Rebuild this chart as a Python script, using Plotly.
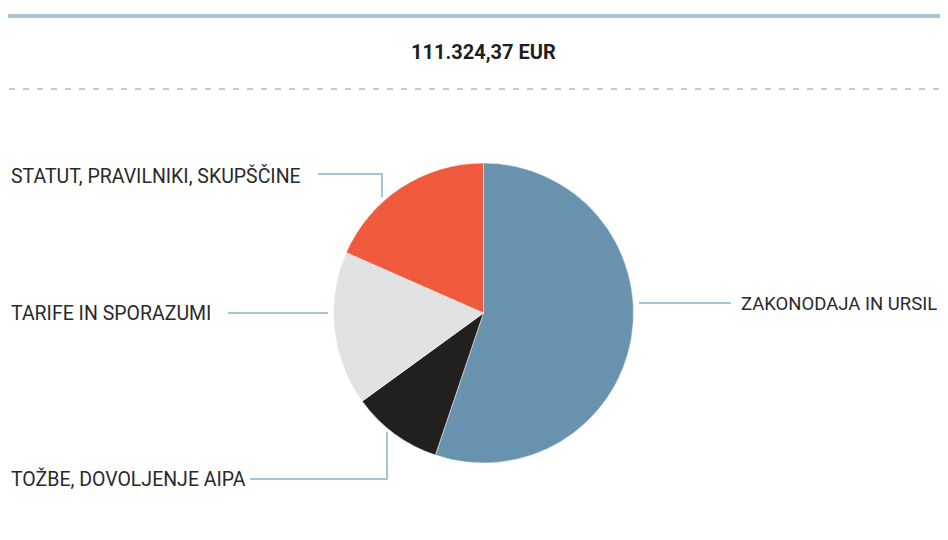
import plotly.graph_objects as go

# Data
categories = ["ZAKONODAJA IN URSIL", "TOŽBE, DOVOLJENJE AIPA", "TARIFE IN SPORAZUMI", "STATUT, PRAVILNIKI, SKUPŠČINE"]
shares = [55.2, 9.8, 16.6, 18.4]
colors = ["#6892ad", "#22201e", "#e1e2e4", "#ef5a3c"]
total_label = "111.324,37 EUR"

# the page places the figure at an 8px offset; coordinates below are page pixels
OFF = 8
W, H = 948 - OFF, 540 - 2 * OFF
def px(x):
    return (x - OFF) / W
def py(y):
    return 1 - (y - OFF) / H

fig = go.Figure()
fig.add_trace(go.Pie(
    labels=categories,
    values=shares,
    sort=False,
    direction="clockwise",
    rotation=0,
    marker=dict(colors=colors, line=dict(color="white", width=0.5)),
    textinfo="none",
    hoverinfo="label+percent",
    showlegend=False,
    domain=dict(x=[px(333.5), px(633.5)], y=[py(463), py(163)]),
))

line_col = "#a5c5d3"
shapes = [
    # top bar
    dict(type="rect", xref="paper", yref="paper", x0=px(8), x1=px(948), y0=py(18), y1=py(14),
         fillcolor="#a7c7d4", line=dict(width=0)),
    # dashed separator
    dict(type="line", xref="paper", yref="paper", x0=px(9), x1=px(948), y0=py(89), y1=py(89),
         line=dict(color="#b8b8b8", width=1.3, dash="6px,8px")),
    # leader lines
    dict(type="path", xref="paper", yref="paper",
         path=f"M {px(318)},{py(174)} L {px(382)},{py(174)} L {px(382)},{py(197)}",
         line=dict(color=line_col, width=2)),
    dict(type="line", xref="paper", yref="paper", x0=px(228), x1=px(328), y0=py(313), y1=py(313),
         line=dict(color=line_col, width=2)),
    dict(type="path", xref="paper", yref="paper",
         path=f"M {px(250)},{py(479)} L {px(387)},{py(479)} L {px(387)},{py(432)}",
         line=dict(color=line_col, width=2)),
    dict(type="line", xref="paper", yref="paper", x0=px(639), x1=px(731), y0=py(303), y1=py(303),
         line=dict(color=line_col, width=2)),
]

font_lbl = dict(family="Roboto", size=19.5, color="#2a2a2a")
annotations = [
    dict(text=f"<b>{total_label}</b>", x=px(483), y=py(52), xref="paper", yref="paper",
         showarrow=False, xanchor="center", yanchor="middle",
         font=dict(family="Roboto", size=20, color="#1e1e1e")),
    dict(text=categories[3], x=px(9), y=py(176), xanchor="left", yanchor="middle"),
    dict(text=categories[2], x=px(9), y=py(313), xanchor="left", yanchor="middle"),
    dict(text=categories[1], x=px(9), y=py(479), xanchor="left", yanchor="middle"),
    dict(text=categories[0], x=px(739), y=py(304), xanchor="left", yanchor="middle"),
]
for a in annotations[1:]:
    a.update(xref="paper", yref="paper", showarrow=False, font=font_lbl)
annotations[4]["font"] = dict(family="Roboto", size=18.5, color="#2a2a2a")

fig.update_layout(
    width=W, height=H,
    margin=dict(l=0, r=0, t=0, b=0),
    paper_bgcolor="white", plot_bgcolor="white",
    shapes=shapes, annotations=annotations,
)
fig.write_html("out.html")
